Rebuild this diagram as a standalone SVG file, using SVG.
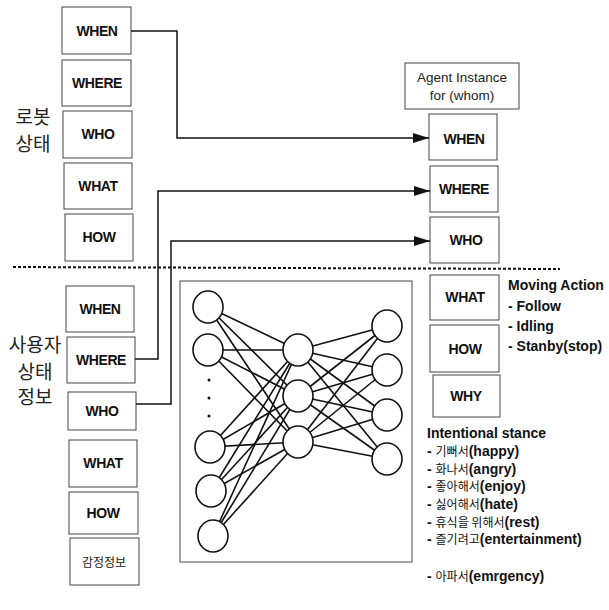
<svg xmlns="http://www.w3.org/2000/svg" width="609" height="610" viewBox="0 0 609 610">
  <style>
    .box { fill: #fff; stroke: #444; stroke-width: 1; }
    .lbl { font-family: "Liberation Sans", Arial, sans-serif; font-weight: bold; font-size: 14px; fill: #111; text-anchor: middle; letter-spacing: -0.4px; }
    .ko { font-family: "Noto Sans CJK KR", sans-serif; font-size: 19px; fill: #222; text-anchor: middle; }
    .ko-sm { font-family: "Noto Sans CJK KR", sans-serif; font-size: 12px; fill: #222; text-anchor: middle; }
    .note { font-family: "Liberation Sans", "Noto Sans CJK KR", Arial, sans-serif; font-weight: bold; font-size: 14px; fill: #111; }
    .note .k { font-family: "Noto Sans CJK KR", sans-serif; font-weight: normal; font-size: 12px; }
    .agent { font-family: "Liberation Sans", Arial, sans-serif; font-size: 13.5px; fill: #222; text-anchor: middle; }
    .conn { fill: none; stroke: #111; stroke-width: 1.5; }
    .edge { stroke: #111; stroke-width: 1.6; }
    .neuron { fill: #fff; stroke: #111; stroke-width: 1.6; }
    .sep { stroke: #111; stroke-width: 2; stroke-dasharray: 3 2; }
  </style>
  <defs>
    <marker id="arrow" viewBox="0 0 16 10" refX="16" refY="5" markerWidth="16" markerHeight="10" markerUnits="userSpaceOnUse" orient="auto">
      <path d="M0,0 L16,5 L0,10 Z" fill="#111"/>
    </marker>
  </defs>

  <!-- section labels -->
  <text class="ko" x="33" y="124">로봇</text>
  <text class="ko" x="33" y="151">상태</text>
  <text class="ko" x="35" y="352">사용자</text>
  <text class="ko" x="35" y="379">상태</text>
  <text class="ko" x="35" y="404">정보</text>

  <!-- robot state -->
  <g id="robot-when"><rect class="box" x="62" y="7" width="69" height="47"/><text class="lbl" x="97" y="36">WHEN</text></g>
  <g id="robot-where"><rect class="box" x="62" y="60" width="69" height="46"/><text class="lbl" x="97" y="88">WHERE</text></g>
  <g id="robot-who"><rect class="box" x="63" y="111" width="69" height="47"/><text class="lbl" x="98" y="139">WHO</text></g>
  <g id="robot-what"><rect class="box" x="64" y="163" width="68" height="46"/><text class="lbl" x="98" y="191">WHAT</text></g>
  <g id="robot-how"><rect class="box" x="65" y="214" width="68" height="47"/><text class="lbl" x="99" y="242">HOW</text></g>

  <!-- separator -->
  <line class="sep" x1="13" y1="267" x2="560" y2="269"/>

  <!-- user state -->
  <g id="user-when"><rect class="box" x="66" y="286" width="68" height="46"/><text class="lbl" x="100" y="314">WHEN</text></g>
  <g id="user-where"><rect class="box" x="67" y="337" width="68" height="46"/><text class="lbl" x="101" y="365">WHERE</text></g>
  <g id="user-who"><rect class="box" x="68" y="392" width="68" height="38"/><text class="lbl" x="102" y="416">WHO</text></g>
  <g id="user-what"><rect class="box" x="69" y="440" width="68" height="47"/><text class="lbl" x="103" y="468">WHAT</text></g>
  <g id="user-how"><rect class="box" x="69" y="492" width="69" height="42"/><text class="lbl" x="103" y="518">HOW</text></g>
  <g id="user-emotion"><rect class="box" x="70" y="538" width="69" height="47"/><text class="ko-sm" x="104" y="567">감정정보</text></g>

  <!-- agent instance -->
  <g id="agent-head"><rect class="box" x="405" y="63" width="114" height="46"/>
    <text class="agent" x="462" y="82">Agent Instance</text>
    <text class="agent" x="462" y="100">for (whom)</text></g>
  <g id="agent-when"><rect class="box" x="429" y="114" width="68" height="46"/><text class="lbl" x="464" y="144">WHEN</text></g>
  <g id="agent-where"><rect class="box" x="430" y="166" width="68" height="46"/><text class="lbl" x="464" y="194">WHERE</text></g>
  <g id="agent-who"><rect class="box" x="430" y="217" width="69" height="46"/><text class="lbl" x="466" y="245">WHO</text></g>
  <g id="agent-what"><rect class="box" x="430" y="275" width="69" height="45"/><text class="lbl" x="465" y="302">WHAT</text></g>
  <g id="agent-how"><rect class="box" x="430" y="325" width="69" height="47"/><text class="lbl" x="465" y="354">HOW</text></g>
  <g id="agent-why"><rect class="box" x="433" y="375" width="67" height="42"/><text class="lbl" x="466" y="401">WHY</text></g>

  <!-- annotations -->
  <g id="moving-action" class="note">
    <text x="508" y="290">Moving Action</text>
    <text x="508" y="311">- Follow</text>
    <text x="508" y="331">- Idling</text>
    <text x="508" y="351">- Stanby(stop)</text>
  </g>
  <g id="intentional-stance" class="note">
    <text x="427" y="438">Intentional stance</text>
    <text x="427" y="456">- <tspan class="k">기뻐서</tspan>(happy)</text>
    <text x="427" y="474">- <tspan class="k">화나서</tspan>(angry)</text>
    <text x="427" y="491">- <tspan class="k">좋아해서</tspan>(enjoy)</text>
    <text x="427" y="509">- <tspan class="k">싫어해서</tspan>(hate)</text>
    <text x="427" y="527">- <tspan class="k">휴식을 위해서</tspan>(rest)</text>
    <text x="427" y="544">- <tspan class="k">즐기려고</tspan>(entertainment)</text>
    <text x="427" y="581">- <tspan class="k">아파서</tspan>(emrgency)</text>
  </g>

  <!-- neural network -->
  <g id="neural-net">
    <rect class="box" x="180" y="281" width="232" height="281"/>
    <g class="edge">
      <line x1="208" y1="307" x2="298" y2="350"/><line x1="208" y1="307" x2="298" y2="396"/><line x1="208" y1="307" x2="298" y2="442"/>
      <line x1="208" y1="350" x2="298" y2="350"/><line x1="208" y1="350" x2="298" y2="396"/><line x1="208" y1="350" x2="298" y2="442"/>
      <line x1="210" y1="447" x2="298" y2="350"/><line x1="210" y1="447" x2="298" y2="396"/><line x1="210" y1="447" x2="298" y2="442"/>
      <line x1="211" y1="491" x2="298" y2="350"/><line x1="211" y1="491" x2="298" y2="396"/><line x1="211" y1="491" x2="298" y2="442"/>
      <line x1="213" y1="536" x2="298" y2="350"/><line x1="213" y1="536" x2="298" y2="396"/><line x1="213" y1="536" x2="298" y2="442"/>
      <line x1="298" y1="350" x2="387" y2="326"/><line x1="298" y1="350" x2="387" y2="370"/><line x1="298" y1="350" x2="387" y2="415"/><line x1="298" y1="350" x2="387" y2="459"/>
      <line x1="298" y1="396" x2="387" y2="326"/><line x1="298" y1="396" x2="387" y2="370"/><line x1="298" y1="396" x2="387" y2="415"/><line x1="298" y1="396" x2="387" y2="459"/>
      <line x1="298" y1="442" x2="387" y2="326"/><line x1="298" y1="442" x2="387" y2="370"/><line x1="298" y1="442" x2="387" y2="415"/><line x1="298" y1="442" x2="387" y2="459"/>
    </g>
    <g class="neuron">
      <ellipse cx="208" cy="307" rx="15" ry="16"/>
      <ellipse cx="208" cy="350" rx="15" ry="16"/>
      <ellipse cx="210" cy="447" rx="15" ry="16"/>
      <ellipse cx="211" cy="491" rx="15" ry="16"/>
      <ellipse cx="213" cy="536" rx="15" ry="16"/>
      <ellipse cx="298" cy="350" rx="15" ry="16"/>
      <ellipse cx="298" cy="396" rx="15" ry="16"/>
      <ellipse cx="298" cy="442" rx="15" ry="16"/>
      <ellipse cx="387" cy="326" rx="15" ry="16"/>
      <ellipse cx="387" cy="370" rx="15" ry="16"/>
      <ellipse cx="387" cy="415" rx="15" ry="16"/>
      <ellipse cx="387" cy="459" rx="15" ry="16"/>
    </g>
    <g fill="#111">
      <circle cx="209" cy="380" r="1.5"/>
      <circle cx="209" cy="398" r="1.5"/>
      <circle cx="209" cy="416" r="1.5"/>
    </g>
  </g>

  <!-- connectors -->
  <g id="connectors" class="conn">
    <path d="M131,31 H177 V138 H429" marker-end="url(#arrow)"/>
    <path d="M135,359 H158 V191 H430" marker-end="url(#arrow)"/>
    <path d="M136,404 H171 V241 H430" marker-end="url(#arrow)"/>
  </g>
</svg>
